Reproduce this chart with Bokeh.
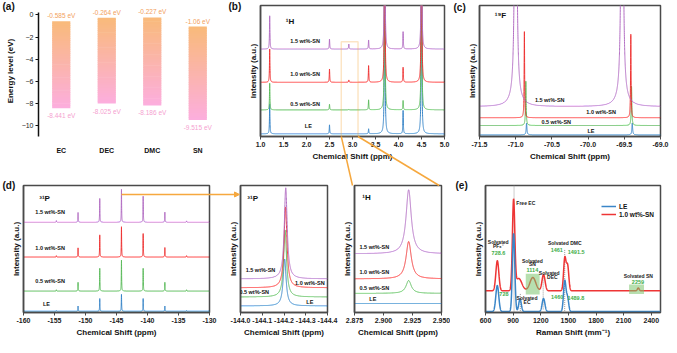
import numpy as np
from bokeh.plotting import figure
from bokeh.layouts import row
from bokeh.models import (Range1d, FactorRange, Label, Arrow, NormalHead, BoxAnnotation,
                          FixedTicker, Legend, LegendItem, PrintfTickFormatter, GridBox)
from bokeh.core.properties import value
from bokeh.embed import file_html
from bokeh.resources import INLINE

FONT = "Liberation Sans"
FRAME = "#4a4a4a"
BLUE, GREEN, RED, PURPLE = "#3a86c8", "#5dbb5d", "#ee3535", "#b36fc3"
ORANGE = "#f6a83e"
NOTE_GREEN = "#41ad48"
TRACE_COLORS = [BLUE, GREEN, RED, PURPLE]

# ---------------- (a) frontier orbital energies ----------------
mol = ["EC", "DEC", "DMC", "SN"]
lumo = [-0.585, -0.264, -0.227, -1.06]
homo = [-8.441, -8.025, -8.186, -9.515]
lumo_txt = ["-0.585 eV", "-0.264 eV", "-0.227 eV", "-1.06 eV"]
homo_txt = ["-8.441 eV", "-8.025 eV", "-8.186 eV", "-9.515 eV"]
energy_ticks = [0, -2, -4, -6, -8, -10]

# ---------------- (b) 1H NMR ----------------
samples = ["LE", "0.5 wt%-SN", "1.0 wt%-SN", "1.5 wt%-SN"]
h1_shift = [1.20, 2.50, 2.92, 3.35, 3.70, 4.10, 4.50]
h1_LE = [90, 27, 0, 15, 900, 70, 900]
h1_05 = [80, 17, 2, 30, 900, 28, 900]
h1_10 = [100, 40, 7, 50, 900, 45, 900]
h1_15 = [100, 30, 15, 27, 900, 52, 900]
h1_base = [8, 80, 163, 263]
h1_ticks = [1.0, 1.5, 2.0, 2.5, 3.0, 3.5, 4.0, 4.5, 5.0]

# ---------------- (c) 19F NMR (peak centre, height, half width) ----------------
f19_shift_LE = [-70.85, -69.39]
f19_shift_05 = [-70.86, -69.40]
f19_shift_10 = [-70.88, -69.41]
f19_shift_15 = [-71.00, -69.53, -71.00, -69.53]
f19_LE = [35, 35]
f19_05 = [132, 117]
f19_10 = [257, 249]
f19_15 = [2000, 2000, 25, 25]
f19_w_LE = [0.006, 0.006]
f19_w_05 = [0.005, 0.005]
f19_w_10 = [0.004, 0.004]
f19_w_15 = [0.010, 0.010, 0.08, 0.08]
f19_base = [5, 33, 56, 89]
f19_ticks = [-71.5, -71.0, -70.5, -70.0, -69.5, -69.0]

# ---------------- (d) 31P NMR ----------------
p31_shift = [-154.7, -151.2, -147.7, -144.2, -140.7, -137.2, -133.7]
p31_LE = [2, 16, 39, 52, 39, 16, 2]
p31_05 = [4, 27, 70, 95, 70, 27, 4]
p31_10 = [4, 28, 68, 93, 72, 29, 4]
p31_15 = [5, 30, 73, 101, 80, 31, 4]
p31_base = [4, 66, 171, 278]
p31_ticks = [-160, -155, -150, -145, -140, -135, -130]

# ---------------- (d) zoom 31P ----------------
p31z_center = [-144.203, -144.205, -144.207, -144.208]
p31z_height = [142, 203, 245, 276]
p31z_base = [20, 47, 75, 102]
p31z_ticks = [-144.0, -144.1, -144.2, -144.3, -144.4]

# ---------------- (d) zoom 1H ----------------
h1z_center = [2.9217]
h1z_height = [0, 39, 113, 194]
h1z_base = [27, 58, 102, 178]
h1z_ticks = [2.875, 2.900, 2.925, 2.950]

# ---------------- (e) Raman ----------------
ram_LE_pos = [728, 905, 975, 1230, 1460, 1489.8]
ram_LE_h = [84, 252, 40, 42, 98, 45]
ram_LE_w = [16, 13, 14, 15, 13, 13]
ram_SN_pos = [728.6, 905, 960, 1114, 1230, 1461, 1491.5, 2259]
ram_SN_h = [97, 285, 40, 43, 52, 105, 80, 9]
ram_SN_w = [16, 13, 35, 32, 17, 13, 13, 10]
ram_base = [3, 70]
ram_ticks = [600, 900, 1200, 1500, 1800, 2100, 2400]
ram_guides_x = [910, 978, 1226, 1460]
ram_guides_y0 = [0, 5, 10, 5]
ram_guides_y1 = [410, 60, 125, 205]
ram_box_left = [1037, 2159]
ram_box_right = [1188, 2321]
ram_box_bottom = [58, 60]
ram_box_top = [125, 90]

panel_names = ["(a)", "(b)", "(c)", "(d)", "(e)"]


class Geo:
    def __init__(self, ox, oy, W, H, L, R, T, B, xs, xe, ys, ye):
        self.ox, self.oy, self.W, self.H = ox, oy, W, H
        self.L, self.R, self.T, self.B = L, R, T, B
        self.xs, self.xe, self.ys, self.ye = xs, xe, ys, ye

    def fw(self):
        return self.W - self.L - self.R

    def fh(self):
        return self.H - self.T - self.B

    def to_ref(self, x, y):
        rx = self.ox + self.L + (x - self.xs) / (self.xe - self.xs) * self.fw()
        ry = self.oy + self.T + (self.ye - y) / (self.ye - self.ys) * self.fh()
        return rx, ry


TOTAL_W, TOTAL_H = 669, 345
ga = Geo(0, 0, 225, 167, 38, 5, 3, 24, 0, 4, -11.0, 0.85)
gb = Geo(225, 0, 225, 167, 35, 6, 5, 31, 1.0, 5.0, 0, 394)
gc = Geo(450, 0, 219, 167, 29, 9, 5, 31, -71.5, -69.0, 0, 391)
gd = Geo(0, 167, 225, 178, 23, 16, 18, 30, -160, -130, 0, 391)
gd2 = Geo(225, 167, 114, 178, 14, 12, 18, 33, -144.0, -144.4, 0, 385)
gd3 = Geo(339, 167, 111, 178, 13, 9, 18, 33, 2.875, 2.950, 0, 385)
ge = Geo(450, 167, 219, 178, 35, 9, 18, 28, 600, 2500, 0, 410)


def lorentz(grid, base, centers, heights, gammas):
    y = np.full(grid.shape, float(base))
    for c, h, g in zip(centers, heights, gammas):
        y += h * g ** 2 / ((grid - c) ** 2 + g ** 2)
    return y


def gauss(grid, base, centers, heights, widths):
    y = np.full(grid.shape, float(base))
    for c, h, w in zip(centers, heights, widths):
        y += h * np.exp(-((grid - c) ** 2) / (2 * w * w))
    return y


def make_grid(a, b, n, centers):
    lo, hi = min(a, b), max(a, b)
    return np.union1d(np.linspace(lo, hi, n), np.array(centers, dtype=float))


def style_xaxis(ax):
    ax.axis_line_color = FRAME
    ax.axis_line_width = 1.5
    ax.major_tick_line_color = FRAME
    ax.major_tick_line_width = 1
    ax.major_tick_out = 3
    ax.major_tick_in = 0
    ax.minor_tick_line_color = None
    ax.major_label_text_font = FONT
    ax.major_label_text_font_size = "7px"
    ax.major_label_text_font_style = "bold"
    ax.major_label_text_color = "#222222"
    ax.major_label_standoff = 2
    ax.axis_label_text_font = FONT
    ax.axis_label_text_font_size = "8px"
    ax.axis_label_text_font_style = "bold"
    ax.axis_label_text_color = "#111111"
    ax.axis_label_standoff = 2


def spectrum_fig(g, xticks, fmt, xlabel):
    p = figure(width=g.W, height=g.H, x_range=Range1d(g.xs, g.xe), y_range=Range1d(g.ys, g.ye),
               output_backend="svg", toolbar_location=None,
               min_border_left=g.L, min_border_right=g.R, min_border_top=g.T, min_border_bottom=g.B)
    p.grid.visible = False
    p.outline_line_color = FRAME
    p.outline_line_width = 1.5
    p.background_fill_color = "white"
    p.border_fill_color = "white"
    xa = p.xaxis[0]
    xa.ticker = FixedTicker(ticks=xticks)
    xa.formatter = PrintfTickFormatter(format=fmt)
    xa.axis_label = xlabel
    style_xaxis(xa)
    ya = p.yaxis[0]
    ya.ticker = FixedTicker(ticks=[])
    ya.major_label_text_font_size = "0px"
    ya.major_label_standoff = 0
    ya.major_tick_line_color = None
    ya.minor_tick_line_color = None
    ya.axis_line_color = FRAME
    ya.axis_line_width = 1.5
    ya.axis_label = "Intensity (a.u.)"
    ya.axis_label_text_font = FONT
    ya.axis_label_text_font_size = "8px"
    ya.axis_label_text_font_style = "bold"
    ya.axis_label_text_color = "#111111"
    ya.axis_label_standoff = 3
    return p


def lab(p, x, y, text, size="5.5px", color="#111111", bold=True, align="center"):
    p.add_layout(Label(x=x, y=y, text=text, text_font=FONT, text_font_size=size,
                       text_color=color, text_font_style="bold" if bold else "normal",
                       text_align=align, text_baseline="middle"))


# =============== (a) ===============
pa = figure(width=ga.W, height=ga.H, x_range=FactorRange(factors=mol), y_range=Range1d(ga.ys, ga.ye),
            output_backend="svg", toolbar_location=None,
            min_border_left=ga.L, min_border_right=ga.R, min_border_top=ga.T, min_border_bottom=ga.B)
pa.grid.visible = False
pa.outline_line_color = None
PEACH = (249, 186, 122)
PINK = (252, 174, 222)
NSLICE = 40
bx, bbot, btop, bcol = [], [], [], []
for m, lo, hi in zip(mol, homo, lumo):
    step = (hi - lo) / NSLICE
    for j in range(NSLICE):
        t = (j + 0.5) / NSLICE
        c = tuple(int(round(PINK[k] + (PEACH[k] - PINK[k]) * t)) for k in range(3))
        bx.append(m)
        bbot.append(lo + j * step)
        btop.append(lo + (j + 1) * step + (step * 0.3 if j < NSLICE - 1 else 0))
        bcol.append("#%02x%02x%02x" % c)
pa.vbar(x=bx, bottom=bbot, top=btop, width=0.4, fill_color=bcol, line_color=None)
pa.text(x=mol, y=lumo, text=lumo_txt, y_offset=-2, text_align="center", text_baseline="bottom",
        text_font=value(FONT), text_font_size=value("6.5px"), text_color="#f2a160")
pa.text(x=mol, y=homo, text=homo_txt, y_offset=4, text_align="center", text_baseline="top",
        text_font=value(FONT), text_font_size=value("6.5px"), text_color="#f59fd0")
ay = pa.yaxis[0]
ay.ticker = FixedTicker(ticks=energy_ticks)
ay.bounds = (-11.0, 0.25)
ay.axis_line_color = "#111111"
ay.axis_line_width = 1.5
ay.major_tick_line_color = "#111111"
ay.major_tick_out = 3
ay.major_tick_in = 0
ay.minor_tick_line_color = None
ay.major_label_text_font = FONT
ay.major_label_text_font_size = "7px"
ay.major_label_text_color = "#222222"
ay.major_label_standoff = 2
ay.axis_label = "Energy level (eV)"
ay.axis_label_text_font = FONT
ay.axis_label_text_font_size = "8px"
ay.axis_label_text_font_style = "bold"
ay.axis_label_text_color = "#111111"
ay.axis_label_standoff = 4
ax_ = pa.xaxis[0]
ax_.axis_line_color = None
ax_.major_tick_line_color = None
ax_.minor_tick_line_color = None
ax_.major_label_text_font = FONT
ax_.major_label_text_font_size = "7px"
ax_.major_label_text_font_style = "bold"
ax_.major_label_text_color = "#111111"
ax_.major_label_standoff = 4

# =============== (b) ===============
pb = spectrum_fig(gb, h1_ticks, "%.1f", "Chemical Shift (ppm)")
grid_b = make_grid(gb.xs, gb.xe, 4001, h1_shift)
for base, hts, col in zip(h1_base, [h1_LE, h1_05, h1_10, h1_15], TRACE_COLORS):
    pb.line(grid_b, lorentz(grid_b, base, h1_shift, hts, [0.006] * len(h1_shift)),
            line_color=col, line_width=1)
pb.add_layout(BoxAnnotation(left=2.756, right=3.12, bottom=0, top=285, fill_alpha=0,
                            line_color=ORANGE, line_width=1.5))
for txt, x, y in [("1.5 wt%-SN", 1.97, 286), ("1.0 wt%-SN", 1.97, 188),
                  ("0.5 wt%-SN", 1.97, 98), ("LE", 2.04, 33)]:
    lab(pb, x, y, txt)
lab(pb, 1.64, 346, "¹H", size="8px")

# =============== (c) ===============
pc = spectrum_fig(gc, f19_ticks, "%.1f", "Chemical Shift (ppm)")
allc = f19_shift_LE + f19_shift_05 + f19_shift_10 + f19_shift_15
grid_c = make_grid(gc.xs, gc.xe, 5001, allc)
for base, cs, hts, ws, col in zip(f19_base,
                                  [f19_shift_LE, f19_shift_05, f19_shift_10, f19_shift_15],
                                  [f19_LE, f19_05, f19_10, f19_15],
                                  [f19_w_LE, f19_w_05, f19_w_10, f19_w_15], TRACE_COLORS):
    pc.line(grid_c, lorentz(grid_c, base, cs, hts, ws), line_color=col, line_width=1)
for txt, x, y in [("1.5 wt%-SN", -70.53, 110), ("1.0 wt%-SN", -69.82, 72),
                  ("0.5 wt%-SN", -70.44, 43), ("LE", -69.96, 15)]:
    lab(pc, x, y, txt)
lab(pc, -71.21, 360, "¹⁹F", size="8px")

# =============== (d) ===============
pd = spectrum_fig(gd, p31_ticks, "%d", "Chemical Shift (ppm)")
grid_d = make_grid(gd.xs, gd.xe, 6001, p31_shift)
for base, hts, col in zip(p31_base, [p31_LE, p31_05, p31_10, p31_15], TRACE_COLORS):
    pd.line(grid_d, lorentz(grid_d, base, p31_shift, hts, [0.03] * len(p31_shift)),
            line_color=col, line_width=1)
for txt, x, y in [("1.5 wt%-SN", -155.7, 308), ("1.0 wt%-SN", -155.7, 199),
                  ("0.5 wt%-SN", -155.7, 96), ("LE", -156.3, 26)]:
    lab(pd, x, y, txt)
lab(pd, -156.6, 351, "³¹P", size="8px")

# =============== (d) zoom 31P ===============
pd2 = spectrum_fig(gd2, p31z_ticks, "%.1f", "Chemical Shift (ppm)")
grid_d2 = make_grid(gd2.xs, gd2.xe, 2001, p31z_center)
for base, c, h, col in zip(p31z_base, p31z_center, p31z_height, TRACE_COLORS):
    pd2.line(grid_d2, lorentz(grid_d2, base, [c], [h], [0.008]), line_color=col, line_width=1)
for txt, x, y in [("1.5 wt%-SN", -144.092, 130), ("1.0 wt%-SN", -144.319, 88),
                  ("0.5 wt%-SN", -144.063, 63), ("LE", -144.319, 32)]:
    lab(pd2, x, y, txt)
lab(pd2, -144.056, 345, "³¹P", size="8px")

# =============== (d) zoom 1H ===============
pd3 = spectrum_fig(gd3, h1z_ticks, "%.3f", "Chemical Shift (ppm)")
grid_d3 = make_grid(gd3.xs, gd3.xe, 2001, h1z_center)
for base, h, col in zip(h1z_base, h1z_height, TRACE_COLORS):
    pd3.line(grid_d3, lorentz(grid_d3, base, h1z_center, [h], [0.0027]), line_color=col, line_width=1)
for txt, x, y in [("1.5 wt%-SN", 2.8921, 200), ("1.0 wt%-SN", 2.8921, 123),
                  ("0.5 wt%-SN", 2.8921, 75), ("LE", 2.8908, 40)]:
    lab(pd3, x, y, txt)
lab(pd3, 2.8853, 350, "¹H", size="8px")

# =============== (e) Raman ===============
pe = spectrum_fig(ge, ram_ticks, "%d", "Raman Shift (mm⁻¹)")
grid_e = make_grid(ge.xs, ge.xe, 1901, ram_LE_pos + ram_SN_pos)
pe.segment(x0=ram_guides_x, y0=ram_guides_y0, x1=ram_guides_x, y1=ram_guides_y1,
           line_color="#9a9a9a", line_dash="1 1", line_width=1)
r_sn = pe.line(grid_e, gauss(grid_e, ram_base[1], ram_SN_pos, ram_SN_h, ram_SN_w),
               line_color=RED, line_width=1.5)
r_le = pe.line(grid_e, gauss(grid_e, ram_base[0], ram_LE_pos, ram_LE_h, ram_LE_w),
               line_color=BLUE, line_width=1.5)
pe.quad(left=ram_box_left, right=ram_box_right, bottom=ram_box_bottom, top=ram_box_top,
        fill_color="#7cc56e", fill_alpha=0.55, line_color=None)
notes = [("Free EC", 935, 355, "#222222", "left"),
         ("Solvated", 738, 227, "#222222", "center"),
         ("PF₆⁻", 738, 214, "#222222", "center"),
         ("728.6", 741, 192, NOTE_GREEN, "center"),
         ("728", 800, 60, NOTE_GREEN, "center"),
         ("Solvated", 1109, 167, "#222222", "center"),
         ("SN", 1109, 155, "#222222", "center"),
         ("1114", 1109, 136, NOTE_GREEN, "center"),
         ("Solvated", 1292, 126, "#222222", "center"),
         ("DEC", 1326, 114, "#222222", "center"),
         ("Solvated", 1051, 48, "#222222", "center"),
         ("EC", 1051, 35, "#222222", "center"),
         ("Solvated DMC", 1460, 223, "#222222", "center"),
         ("1461", 1374, 203, NOTE_GREEN, "center"),
         ("1491.5", 1584, 195, NOTE_GREEN, "center"),
         ("1460", 1378, 50, NOTE_GREEN, "center"),
         ("1489.8", 1581, 47, NOTE_GREEN, "center"),
         ("Solvated SN", 2259, 117, "#222222", "center"),
         ("2259", 2255, 100, NOTE_GREEN, "center")]
for txt, x, y, col, al in notes:
    sz = "5.5px" if col == NOTE_GREEN else "5px"
    lab(pe, x, y, txt, size=sz, color=col, align=al)
leg = Legend(items=[LegendItem(label="LE", renderers=[r_le]),
                    LegendItem(label="1.0 wt%-SN", renderers=[r_sn])],
             location=(116, 94), border_line_color=None, background_fill_alpha=0,
             padding=0, spacing=0, margin=0, label_text_font=FONT, label_text_font_size="6.5px",
             label_text_font_style="bold", label_text_color="#111111",
             glyph_width=15, glyph_height=8, label_height=8, label_standoff=3)
pe.add_layout(leg)

# =============== transparent overlay: panel letters + connectors ===============
ov = figure(width=TOTAL_W, height=TOTAL_H, x_range=Range1d(0, TOTAL_W), y_range=Range1d(TOTAL_H, 0),
            x_axis_location=None, y_axis_location=None, min_border=0,
            output_backend="svg", toolbar_location=None)
ov.grid.visible = False
ov.outline_line_color = None
ov.background_fill_color = None
ov.background_fill_alpha = 0
ov.border_fill_color = None
ov.border_fill_alpha = 0
ov.text(x=[2, 228, 453, 2, 455], y=[6, 6, 7, 185, 185], text=panel_names,
        text_align="left", text_baseline="middle", text_font=value(FONT),
        text_font_size=value("10px"), text_font_style="bold", text_color="#111111")
b_bl = gb.to_ref(2.756, 0)
b_br = gb.to_ref(3.12, 0)
d3_tl = gd3.to_ref(2.875, gd3.ye)
d3_tr = gd3.to_ref(2.948, gd3.ye)
ov.segment(x0=[b_bl[0], b_br[0]], y0=[b_bl[1], b_br[1]], x1=[d3_tl[0], d3_tr[0]],
           y1=[d3_tl[1], d3_tr[1]], line_color=ORANGE, line_width=1.5)
a0 = gd.to_ref(-144.2, 364)
a1 = (gd2.to_ref(gd2.xs, 0)[0], a0[1])
ov.add_layout(Arrow(x_start=a0[0], y_start=a0[1], x_end=a1[0], y_end=a1[1], line_color=ORANGE,
                    line_width=1.5, end=NormalHead(size=5, fill_color=ORANGE, line_color=ORANGE)))

top = row(pa, pb, pc)
bottom = row(pd, pd2, pd3, pe)
layout = GridBox(children=[(top, 0, 0), (bottom, 1, 0), (ov, 0, 0, 2, 1)])
open("out.html", "w").write(file_html(layout, INLINE))
